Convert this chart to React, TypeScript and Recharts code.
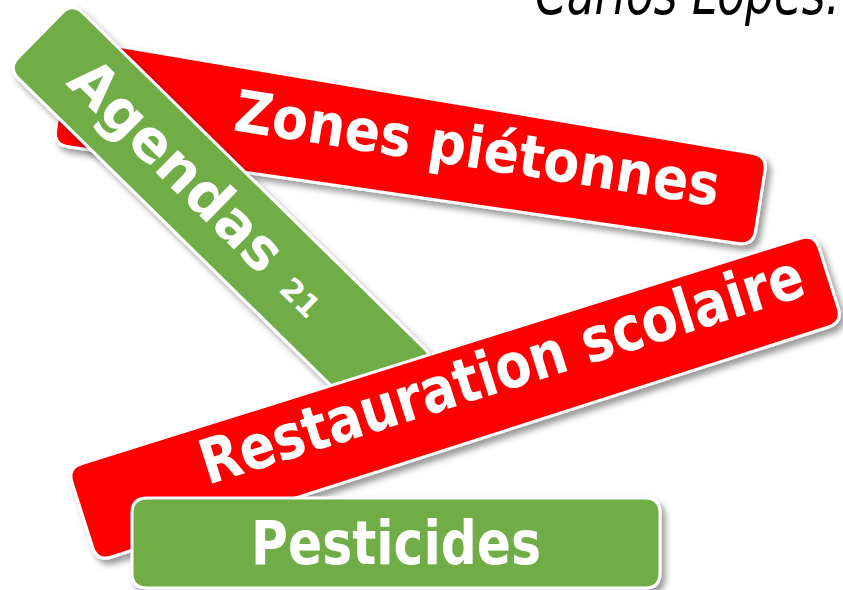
import { ScatterChart, Scatter, XAxis, YAxis } from 'recharts';

// banners, drawn bottom to top
const labels = ['Zones piétonnes', 'Agendas', 'Restauration scolaire', 'Pesticides'];
const centerX = [411, 222, 455.5, 396];
const centerY = [146, 214, 396.5, 543];
const angles = [8.9, 44.5, -17.6, 0];
const spans = [707, 510, 783, 528];
const thickStart = [108, 92, 98, 90];
const thickEnd = [91, 92, 93, 90];
const suffixes = ['', '21', '', ''];
const signature = 'Carlos Lopes.';

const W = 843;
const H = 590;

const colors = ['#ff0000', '#70ad47', '#ff0000', '#70ad47'];
const textShiftX = [66, -66, 52, 0];
const textShiftY = [-8, -3, -12, 0];
const textLen = [490, 275, 630, 290];
const fontSizes = [58, 58, 62, 60];

const banners = labels.map((label, i) => ({
  label,
  x: centerX[i],
  y: centerY[i],
  angle: angles[i],
  span: spans[i],
  t0: thickStart[i],
  t1: thickEnd[i],
  suffix: suffixes[i],
  idx: i
}));

// quadrilateral with rounded corners
function roundedPath(pts: number[][], r: number) {
  const n = pts.length;
  let d = '';
  for (let k = 0; k < n; k++) {
    const p = pts[k];
    const prev = pts[(k + n - 1) % n];
    const next = pts[(k + 1) % n];
    const l1 = Math.hypot(prev[0] - p[0], prev[1] - p[1]);
    const l2 = Math.hypot(next[0] - p[0], next[1] - p[1]);
    const a = [p[0] + ((prev[0] - p[0]) * r) / l1, p[1] + ((prev[1] - p[1]) * r) / l1];
    const b = [p[0] + ((next[0] - p[0]) * r) / l2, p[1] + ((next[1] - p[1]) * r) / l2];
    d += (k === 0 ? 'M' : 'L') + a[0] + ',' + a[1] + ' Q' + p[0] + ',' + p[1] + ' ' + b[0] + ',' + b[1] + ' ';
  }
  return d + 'Z';
}

function Banner(props: any) {
  const { cx, cy, payload } = props;
  if (cx == null || cy == null) return null;
  const i = payload.idx;
  const L = payload.span;
  const tf = `translate(${cx},${cy}) rotate(${payload.angle})`;
  const fid = `shadow-${i}`;
  const pts = [
    [-L / 2, -payload.t0 / 2],
    [L / 2, -payload.t1 / 2],
    [L / 2, payload.t1 / 2],
    [-L / 2, payload.t0 / 2]
  ];
  return (
    <g>
      <defs>
        <filter id={fid} x="-20%" y="-40%" width="140%" height="200%">
          <feDropShadow dx="4" dy="5" stdDeviation="3" floodColor="#000" floodOpacity="0.4" />
        </filter>
      </defs>
      <g filter={`url(#${fid})`}>
        <path transform={tf} d={roundedPath(pts, 15)} fill={colors[i]} stroke="#ffffff" strokeWidth={3} />
      </g>
      <g transform={tf}>
        <text
          x={textShiftX[i]}
          y={textShiftY[i]}
          textAnchor="middle"
          dominantBaseline="central"
          fill="#ffffff"
          fontFamily="'DejaVu Sans', sans-serif"
          fontWeight="bold"
          fontSize={fontSizes[i]}
          textLength={textLen[i]}
          lengthAdjust="spacingAndGlyphs"
        >
          {payload.label}
        </text>
        {payload.suffix ? (
          <text
            x={textShiftX[i] + textLen[i] / 2 + 22}
            y={textShiftY[i] + 8}
            textAnchor="start"
            dominantBaseline="central"
            fill="#ffffff"
            fontFamily="'DejaVu Sans', sans-serif"
            fontWeight="bold"
            fontSize={30}
          >
            {payload.suffix}
          </text>
        ) : null}
      </g>
    </g>
  );
}

export default function App() {
  return (
    <div style={{ position: 'fixed', left: 0, top: 0, width: W, height: H, background: '#fff' }}>
      <ScatterChart width={W} height={H} margin={{ top: 0, right: 0, bottom: 0, left: 0 }}>
        <XAxis type="number" dataKey="x" domain={[0, W]} hide />
        <YAxis type="number" dataKey="y" domain={[0, H]} reversed hide />
        {banners.map(b => (
          <Scatter key={b.label} data={[b]} shape={Banner} isAnimationActive={false} />
        ))}
      </ScatterChart>
      <svg width={W} height={40} style={{ position: 'absolute', left: 0, top: 0 }}>
        <text
          x={535}
          y={14}
          fontFamily="'DejaVu Sans', sans-serif"
          fontStyle="italic"
          fontSize={60}
          fill="#000"
          textLength={305}
          lengthAdjust="spacingAndGlyphs"
        >
          {signature}
        </text>
      </svg>
    </div>
  );
}
